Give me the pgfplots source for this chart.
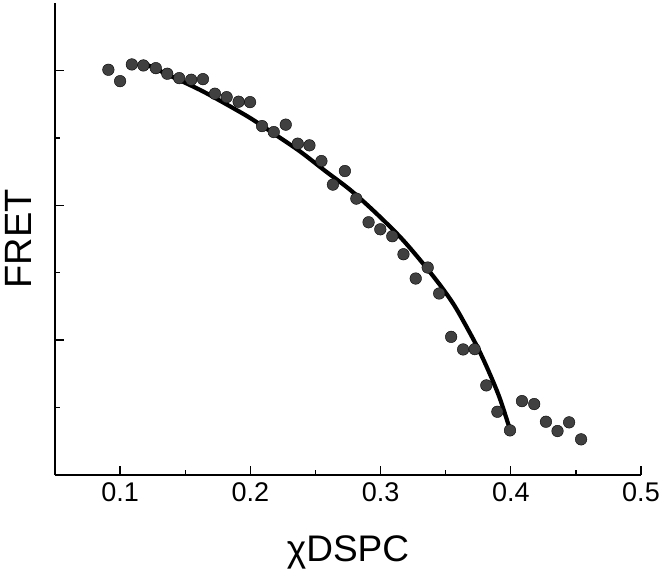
\documentclass[border=0pt]{standalone}
\usepackage{fontspec}
\setmainfont{Liberation Sans}
\usepackage{pgfplots}
\pgfplotsset{compat=1.18}
\definecolor{dotgrey}{HTML}{404040}
\begin{document}
\begin{tikzpicture}
\begin{axis}[
  scale only axis, width=586pt, height=472pt,
  xmin=0.05, xmax=0.5, ymin=0, ymax=7,
  axis lines*=left,
  axis line style={black, line width=1.3pt},
  tick align=inside,
  major tick length=9pt, minor tick length=5pt,
  every tick/.style={black, line width=1.3pt},
  xtick={0.1,0.2,0.3,0.4,0.5},
  xticklabels={0.1,0.2,0.3,0.4,0.5},
  minor xtick={0.15,0.25,0.35,0.45},
  ytick={2,4,6}, yticklabels={},
  minor ytick={1,3,5},
  xticklabel style={font=\fontsize{27}{30}\selectfont, yshift=-4pt},
  xlabel={χDSPC},
  ylabel={FRET},
  xlabel style={font=\fontsize{37}{42}\selectfont, at={(axis description cs:0.5,-0.165)}, anchor=center},
  ylabel style={font=\fontsize{38}{42}\selectfont, at={(axis description cs:-0.063,0.5)}, anchor=center},
  clip=false,
]
\addplot[only marks, mark=*, mark size=5.8pt, mark options={draw=none, fill=dotgrey}] coordinates {
(0.0910,6.010) (0.1000,5.841) (0.1090,6.089) (0.1179,6.074) (0.1274,6.034)
(0.1362,5.951) (0.1454,5.886) (0.1546,5.862) (0.1636,5.871) (0.1728,5.655)
(0.1818,5.604) (0.1910,5.536) (0.1998,5.530) (0.2090,5.175) (0.2180,5.086)
(0.2272,5.196) (0.2364,4.914) (0.2454,4.889) (0.2546,4.656) (0.2634,4.307)
(0.2726,4.508) (0.2814,4.099) (0.2908,3.748) (0.2998,3.644) (0.3090,3.541)
(0.3176,3.274) (0.3270,2.914) (0.3362,3.077) (0.3450,2.692) (0.3542,2.049)
(0.3634,1.862) (0.3723,1.867) (0.3812,1.329) (0.3897,0.938) (0.3994,0.662)
(0.4086,1.096) (0.4180,1.052) (0.4270,0.790) (0.4359,0.652) (0.4448,0.781)
(0.4540,0.529)
};
\addplot[smooth, black, line width=4.2pt] coordinates {
(0.1182,6.108) (0.1387,5.919) (0.1617,5.708) (0.1808,5.507) (0.2000,5.293)
(0.2191,5.049) (0.2383,4.797) (0.2574,4.511) (0.2766,4.230) (0.2957,3.899)
(0.3149,3.533) (0.3302,3.193) (0.3455,2.822) (0.3570,2.504) (0.3685,2.111)
(0.3761,1.830) (0.3838,1.504) (0.3915,1.141) (0.3996,0.662)
};
\end{axis}
\pgfresetboundingbox
\path[use as bounding box] (current axis.south west) ++(-55pt,-107pt) rectangle ++(664pt,582pt);
\end{tikzpicture}
\end{document}
